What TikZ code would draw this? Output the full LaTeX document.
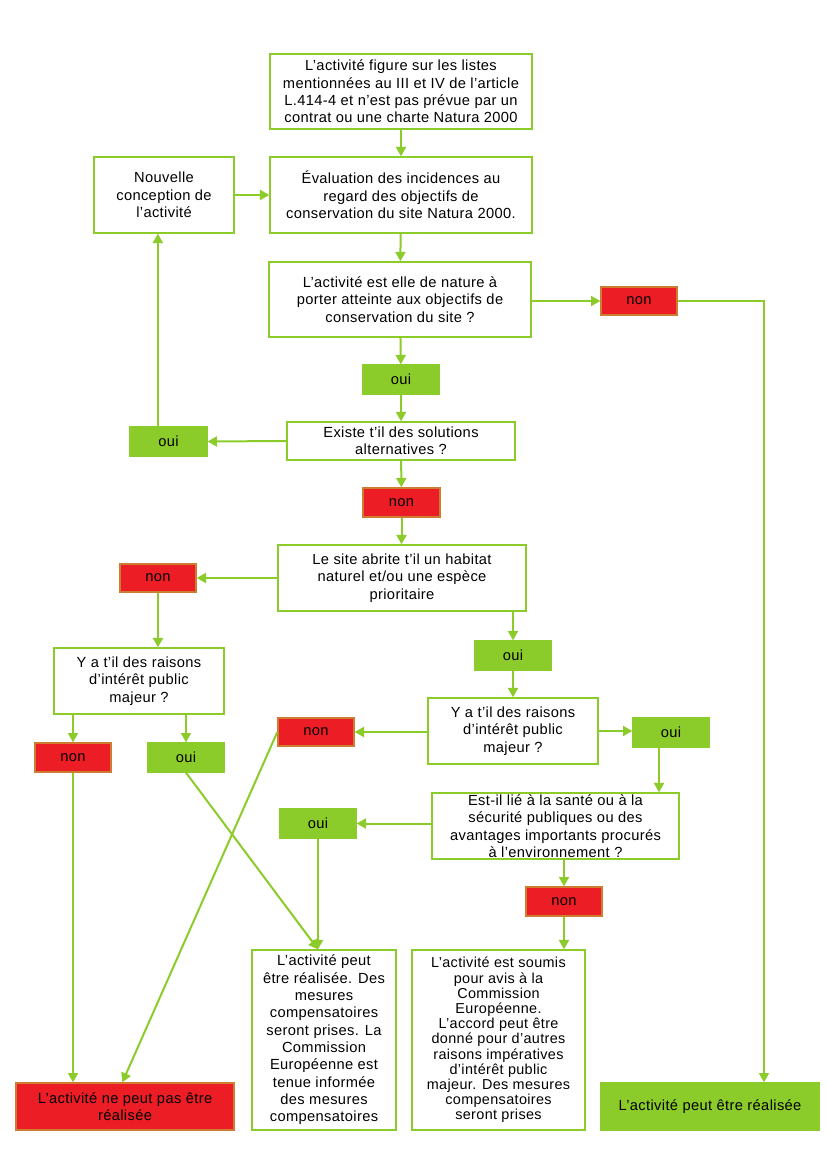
\documentclass[tikz,border=0pt]{standalone}
\usepackage{fontspec}
\setmainfont[LetterSpace=2.5]{Liberation Sans}
\usetikzlibrary{arrows.meta}
\definecolor{lgreen}{RGB}{140,204,42}
\definecolor{lred}{RGB}{236,29,36}
\definecolor{redborder}{RGB}{205,125,50}
\tikzset{
  every node/.style={font=\fontsize{11}{13}\selectfont, align=center, inner sep=0pt},
  wbox/.style={draw=lgreen, line width=1.1pt, fill=white},
  gbox/.style={draw=lgreen, fill=lgreen, line width=1pt},
  rbox/.style={draw=redborder, fill=lred, line width=1pt},
  tight/.style={font=\fontsize{10.8}{11.4}\selectfont},
  arr/.style={draw=lgreen, line width=1.5pt, -{Triangle[length=7pt,width=7.5pt]}},
}
\newcommand\bx[7]{%
  \pgfmathsetmacro\bxw{(#4-#2)*0.75}%
  \pgfmathsetmacro\bxh{(#5-#3)*0.75}%
  \node[#1, minimum width=\bxw pt, minimum height=\bxh pt] (#6) at ({(#2+#4)/2},{(#3+#5)/2}) {#7};}
\begin{document}
\begin{tikzpicture}[x=0.75pt,y=-0.75pt]
\useasboundingbox[fill=white] (0,0) rectangle (826,1169);
% boxes
\bx{wbox}{270}{54}{532}{129}{A}{L’activité figure sur les listes\\mentionnées au III et IV de l’article\\L.414-4 et n’est pas prévue par un\\contrat ou une charte Natura 2000}
\bx{wbox}{270}{157}{532}{233}{B}{Évaluation des incidences au\\regard des objectifs de\\conservation du site Natura 2000.}
\bx{wbox}{94}{157}{234}{233}{N}{Nouvelle\\conception de\\l’activité}
\bx{wbox}{269}{262}{531}{337}{C}{L’activité est elle de nature à\\porter atteinte aux objectifs de\\conservation du site ?}
\bx{rbox}{601}{287}{677}{315}{non1}{non}
\bx{gbox}{363}{365}{439}{394}{oui1}{oui}
\bx{wbox}{287}{422}{515}{460}{D}{Existe t’il des solutions\\alternatives ?}
\bx{gbox}{130}{427}{207}{456}{oui2}{oui}
\bx{rbox}{363}{488}{440}{517}{non2}{non}
\bx{wbox}{278}{545}{526}{611}{E}{Le site abrite t’il un habitat\\naturel et/ou une espèce\\prioritaire}
\bx{rbox}{120}{564}{196}{592}{non3}{non}
\bx{wbox}{54}{648}{224}{714}{F}{Y a t’il des raisons\\d’intérêt public\\majeur ?}
\bx{rbox}{35}{743}{111}{772}{non4}{non}
\bx{gbox}{148}{743}{224}{772}{oui3}{oui}
\bx{gbox}{475}{641}{551}{670}{oui4}{oui}
\bx{wbox}{428}{698}{598}{764}{G}{Y a t’il des raisons\\d’intérêt public\\majeur ?}
\bx{rbox}{278}{718}{354}{746}{non5}{non}
\bx{gbox}{633}{718}{709}{747}{oui5}{oui}
\bx{wbox}{432}{793}{679}{859}{H}{Est-il lié à la santé ou à la\\sécurité publiques ou des\\avantages importants procurés\\à l’environnement ?}
\bx{gbox}{280}{809}{356}{838}{oui6}{oui}
\bx{rbox}{526}{887}{602}{916}{non6}{non}
\bx{wbox}{252}{950}{396}{1130}{I}{L’activité peut\\être réalisée. Des\\mesures\\compensatoires\\seront prises. La\\Commission\\Européenne est\\tenue informée\\des mesures\\compensatoires}
\bx{wbox,tight}{412}{950}{585}{1130}{J}{L’activité est soumis\\pour avis à la\\Commission\\Européenne.\\L’accord peut être\\donné pour d’autres\\raisons impératives\\d’intérêt public\\majeur. Des mesures\\compensatoires\\seront prises}
\bx{rbox}{16}{1083}{234}{1130}{K}{L’activité ne peut pas être\\réalisée}
\bx{gbox}{601}{1083}{819}{1130}{L}{L’activité peut être réalisée}
% connectors
\draw[arr] (A) -- (B);
\draw[arr] (N.east) -- (B.west);
\draw[arr] (B) -- (C);
\draw[arr] (C.east |- non1.west) -- (non1.west);
\draw[arr] (non1.east) -| ([xshift=40.5pt]L.north);
\draw[arr] (C) -- (oui1);
\draw[arr] (oui1) -- (D);
\draw[arr] (D.west) -- (oui2.east);
\draw[arr] ([xshift=-8pt]oui2.north) -- ([xshift=-8pt]oui2.north |- N.south);
\draw[arr] (D) -- (non2);
\draw[arr] (non2) -- (non2 |- E.north);
\draw[arr] (E.west) -- (non3.east);
\draw[arr] (non3.south) -- (non3.south |- F.north);
\draw[arr] (oui4 |- E.south) -- (oui4.north);
\draw[arr] (oui4) -- (G);
\draw[arr] (non4 |- F.south) -- (non4.north);
\draw[arr] (oui3 |- F.south) -- (oui3.north);
\draw[arr] (non4.south) -- (non4.south |- K.north);
\draw[arr] (non5.west) -- ([xshift=-2pt]K.north);
\draw[arr] (oui3.south) -- ([xshift=-4.5pt]I.north);
\draw[arr] (G.west |- non5.east) -- (non5.east);
\draw[arr] (G.east) -- (G.east -| oui5.west);
\draw[arr] ([xshift=-9pt]oui5.south) -- ([xshift=-9pt]oui5.south |- H.north);
\draw[arr] (H.west |- oui6) -- (oui6.east);
\draw[arr] (oui6.south) -- (oui6.south |- I.north);
\draw[arr] (non6 |- H.south) -- (non6.north);
\draw[arr] (non6.south) -- (non6.south |- J.north);
\end{tikzpicture}
\end{document}
